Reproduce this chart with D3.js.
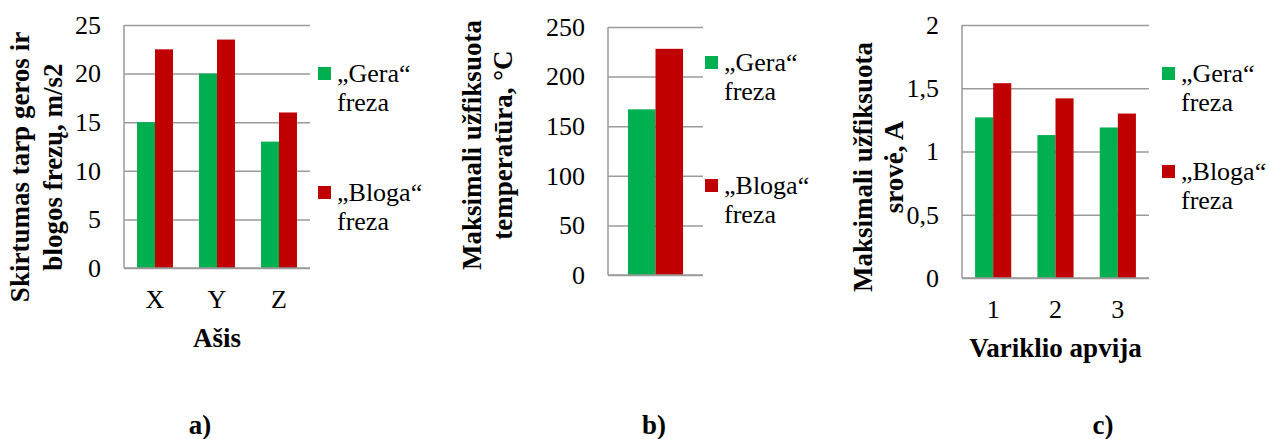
<!DOCTYPE html>
<html>
<head>
<meta charset="utf-8">
<script src="https://cdn.jsdelivr.net/npm/d3@7"></script>
<style>
  body { margin: 0; background: #fff; }
  svg { display: block; }
  svg text { font-family: 'Liberation Serif', 'Times New Roman', serif; }
</style>
</head>
<body>
<svg id="fig" width="1269" height="439"></svg>
<script>
// series names (legend, two lines each)
const seriesNames = [['„Gera“', 'freza'], ['„Bloga“', 'freza']];
const seriesColors = ['#00b050', '#c00000'];

// a) acceleration difference per axis
const accelCats = ['X', 'Y', 'Z'];
const accelGera = [15, 20, 13];
const accelBloga = [22.5, 23.5, 16];
const accelTicks = [0, 5, 10, 15, 20, 25];

// b) max temperature
const tempCats = [''];
const tempGera = [167];
const tempBloga = [228];
const tempTicks = [0, 50, 100, 150, 200, 250];

// c) max current per motor winding
const windingCats = ['1', '2', '3'];
const currentGera = [1.27, 1.13, 1.19];
const currentBloga = [1.54, 1.42, 1.30];
const currentTicks = [0, 0.5, 1, 1.5, 2];

const svg = d3.select('#fig');
const gridColor = '#9a9a9a';
const gridWidth = 1.5;
const fontSize = 26;
const titleSize = 27;

function drawChart(cfg) {
    const g = svg.append('g');

    const x = d3.scaleBand()
        .domain(cfg.cats)
        .range([cfg.left, cfg.right])
        .paddingInner(0.42)
        .paddingOuter(0.21);

    const xs = d3.scaleBand()
        .domain(d3.range(cfg.series.length))
        .range([0, x.bandwidth()]);

    const y = d3.scaleLinear()
        .domain([0, d3.max(cfg.ticks)])
        .range([cfg.bottom, cfg.top]);

    // gridlines + tick labels
    const yAxis = g.append('g')
        .attr('transform', `translate(${cfg.left},0)`)
        .call(d3.axisLeft(y)
            .tickValues(cfg.ticks)
            .tickSize(-(cfg.right - cfg.left))
            .tickPadding(23)
            .tickFormat(cfg.fmt || (d => d)))
        .attr('font-family', null)
        .attr('font-size', fontSize);
    yAxis.select('.domain').remove();
    yAxis.selectAll('.tick line')
        .attr('stroke', gridColor)
        .attr('stroke-width', gridWidth);
    yAxis.selectAll('.tick text')
        .attr('fill', '#000');

    // left axis line
    g.append('line')
        .attr('x1', cfg.left).attr('x2', cfg.left)
        .attr('y1', cfg.top).attr('y2', cfg.bottom)
        .attr('stroke', gridColor)
        .attr('stroke-width', gridWidth);

    // bars
    const groups = g.selectAll('.cat')
        .data(cfg.cats)
        .enter()
        .append('g')
            .attr('class', 'cat')
            .attr('transform', d => `translate(${x(d)},0)`);

    groups.selectAll('rect')
        .data((d, i) => cfg.series.map((s, j) => ({ j, v: s[i] })))
        .enter()
        .append('rect')
            .attr('x', d => xs(d.j))
            .attr('width', xs.bandwidth())
            .attr('y', d => y(d.v))
            .attr('height', d => y(0) - y(d.v))
            .attr('fill', d => seriesColors[d.j]);

    // category axis
    const xAxis = g.append('g')
        .attr('transform', `translate(0,${cfg.bottom})`)
        .call(d3.axisBottom(x).tickSize(0).tickPadding(21.5))
        .attr('font-family', null)
        .attr('font-size', fontSize);
    xAxis.select('.domain').remove();
    xAxis.selectAll('.tick text')
        .attr('fill', '#000');

    g.append('line')
        .attr('x1', cfg.left).attr('x2', cfg.right)
        .attr('y1', cfg.bottom).attr('y2', cfg.bottom)
        .attr('stroke', gridColor)
        .attr('stroke-width', gridWidth);

    // x title
    if (cfg.xTitle) {
        g.append('text')
            .attr('x', (cfg.left + cfg.right) / 2)
            .attr('y', cfg.bottom + 79)
            .attr('text-anchor', 'middle')
            .attr('font-size', 27)
            .attr('font-weight', 'bold')
            .text(cfg.xTitle);
    }

    // y title, two rotated lines
    cfg.yTitle.forEach((line, i) => {
        g.append('text')
            .attr('transform', `translate(${cfg.yTitleX[i]},${cfg.yTitleMid}) rotate(-90)`)
            .attr('text-anchor', 'middle')
            .attr('font-size', titleSize)
            .attr('font-weight', 'bold')
            .text(line);
    });

    // legend
    cfg.legendY.forEach((base, j) => {
        g.append('rect')
            .attr('x', cfg.legendX)
            .attr('y', base - 15)
            .attr('width', 13)
            .attr('height', 13)
            .attr('fill', seriesColors[j]);
        const t = g.append('text')
            .attr('x', cfg.legendX + 19)
            .attr('y', base)
            .attr('font-size', fontSize);
        seriesNames[j].forEach((s, k) => {
            t.append('tspan')
                .attr('x', cfg.legendX + 19)
                .attr('dy', k ? 29 : 0)
                .text(s);
        });
    });

    // panel label
    g.append('text')
        .attr('x', cfg.panelX)
        .attr('y', 434)
        .attr('text-anchor', 'middle')
        .attr('font-size', 27)
        .attr('font-weight', 'bold')
        .text(cfg.panel);
}

drawChart({
    cats: accelCats, series: [accelGera, accelBloga], ticks: accelTicks,
    left: 124, right: 310, top: 25, bottom: 268,
    xTitle: 'Ašis',
    yTitle: ['Skirtumas tarp geros ir', 'blogos frezų, m/s2'],
    yTitleX: [29, 62], yTitleMid: 167,
    legendX: 318, legendY: [82, 201],
    panel: 'a)', panelX: 200
});

drawChart({
    cats: tempCats, series: [tempGera, tempBloga], ticks: tempTicks,
    left: 608, right: 703, top: 27, bottom: 275,
    xTitle: null,
    yTitle: ['Maksimali užfiksuota', 'temperatūra, °C'],
    yTitleX: [481, 512], yTitleMid: 145,
    legendX: 705, legendY: [71, 194],
    panel: 'b)', panelX: 654
});

drawChart({
    cats: windingCats, series: [currentGera, currentBloga], ticks: currentTicks,
    fmt: d => String(d).replace('.', ','),
    left: 962, right: 1149, top: 25, bottom: 278,
    xTitle: 'Variklio apvija',
    yTitle: ['Maksimali užfiksuota', 'srovė, A'],
    yTitleX: [872, 903], yTitleMid: 167,
    legendX: 1162, legendY: [82, 180],
    panel: 'c)', panelX: 1103
});
</script>
</body>
</html>
